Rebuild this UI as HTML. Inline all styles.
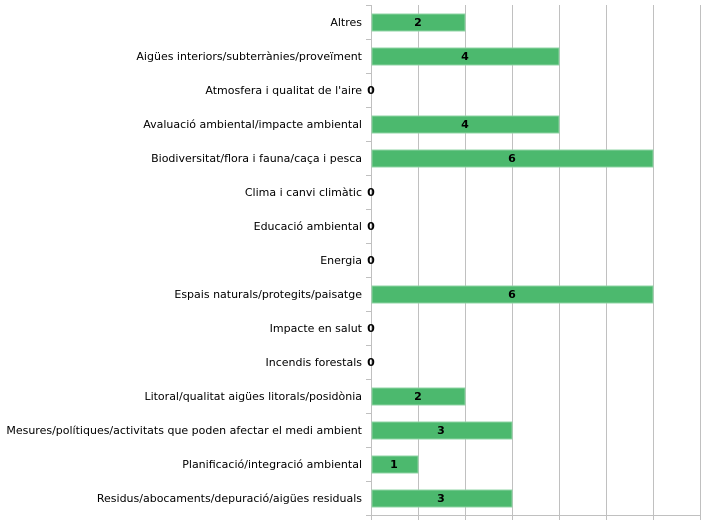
<!DOCTYPE html><html><head><style>body{margin:0;background:#fff}svg{display:block}text{font-family:"DejaVu Sans","Liberation Sans",sans-serif;font-size:11px}</style></head><body>
<svg width="704" height="523" xmlns="http://www.w3.org/2000/svg">
<g stroke="#c0c0c0" stroke-width="1">
<line x1="418.5" y1="5" x2="418.5" y2="515"/><line x1="465.5" y1="5" x2="465.5" y2="515"/><line x1="512.5" y1="5" x2="512.5" y2="515"/><line x1="559.5" y1="5" x2="559.5" y2="515"/><line x1="606.5" y1="5" x2="606.5" y2="515"/><line x1="653.5" y1="5" x2="653.5" y2="515"/><line x1="700.5" y1="5" x2="700.5" y2="515"/>
<line x1="371.5" y1="5" x2="371.5" y2="516"/>
<line x1="366" y1="5.5" x2="371" y2="5.5"/><line x1="366" y1="39.5" x2="371" y2="39.5"/><line x1="366" y1="73.5" x2="371" y2="73.5"/><line x1="366" y1="107.5" x2="371" y2="107.5"/><line x1="366" y1="141.5" x2="371" y2="141.5"/><line x1="366" y1="175.5" x2="371" y2="175.5"/><line x1="366" y1="209.5" x2="371" y2="209.5"/><line x1="366" y1="243.5" x2="371" y2="243.5"/><line x1="366" y1="277.5" x2="371" y2="277.5"/><line x1="366" y1="311.5" x2="371" y2="311.5"/><line x1="366" y1="345.5" x2="371" y2="345.5"/><line x1="366" y1="379.5" x2="371" y2="379.5"/><line x1="366" y1="413.5" x2="371" y2="413.5"/><line x1="366" y1="447.5" x2="371" y2="447.5"/><line x1="366" y1="481.5" x2="371" y2="481.5"/><line x1="366" y1="515.5" x2="371" y2="515.5"/>
<line x1="371" y1="515.5" x2="701" y2="515.5"/>
<line x1="418.5" y1="515" x2="418.5" y2="520"/><line x1="465.5" y1="515" x2="465.5" y2="520"/><line x1="512.5" y1="515" x2="512.5" y2="520"/><line x1="559.5" y1="515" x2="559.5" y2="520"/><line x1="606.5" y1="515" x2="606.5" y2="520"/><line x1="653.5" y1="515" x2="653.5" y2="520"/><line x1="700.5" y1="515" x2="700.5" y2="520"/><line x1="371.5" y1="515" x2="371.5" y2="520"/>
</g>
<g fill="#4cb96e" stroke="#8fd4a4" stroke-width="1">
<rect x="372" y="14" width="93" height="17"/>
<rect x="372" y="48" width="187" height="17"/>
<rect x="372" y="116" width="187" height="17"/>
<rect x="372" y="150" width="281" height="17"/>
<rect x="372" y="286" width="281" height="17"/>
<rect x="372" y="388" width="93" height="17"/>
<rect x="372" y="422" width="140" height="17"/>
<rect x="372" y="456" width="46" height="17"/>
<rect x="372" y="490" width="140" height="17"/>
</g>
<g font-weight="bold" text-anchor="middle" fill="#000">
<text x="418" y="26">2</text><text x="465" y="60">4</text><text x="371" y="94">0</text><text x="465" y="128">4</text><text x="512" y="162">6</text><text x="371" y="196">0</text><text x="371" y="230">0</text><text x="371" y="264">0</text><text x="512" y="298">6</text><text x="371" y="332">0</text><text x="371" y="366">0</text><text x="418" y="400">2</text><text x="441" y="434">3</text><text x="394" y="468">1</text><text x="441" y="502">3</text>
</g>
<g text-anchor="end" fill="#000">
<text x="362" y="26">Altres</text>
<text x="362" y="60">Aigües interiors/subterrànies/proveïment</text>
<text x="362" y="94">Atmosfera i qualitat de l'aire</text>
<text x="362" y="128">Avaluació ambiental/impacte ambiental</text>
<text x="362" y="162">Biodiversitat/flora i fauna/caça i pesca</text>
<text x="362" y="196">Clima i canvi climàtic</text>
<text x="362" y="230">Educació ambiental</text>
<text x="362" y="264">Energia</text>
<text x="362" y="298">Espais naturals/protegits/paisatge</text>
<text x="362" y="332">Impacte en salut</text>
<text x="362" y="366">Incendis forestals</text>
<text x="362" y="400">Litoral/qualitat aigües litorals/posidònia</text>
<text x="362" y="434">Mesures/polítiques/activitats que poden afectar el medi ambient</text>
<text x="362" y="468">Planificació/integració ambiental</text>
<text x="362" y="502">Residus/abocaments/depuració/aigües residuals</text>
</g>
</svg></body></html>
